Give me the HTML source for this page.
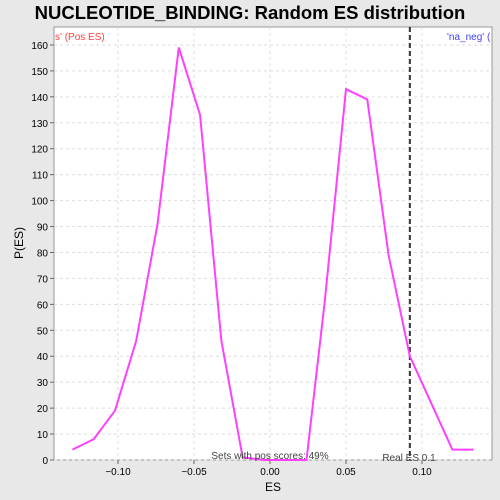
<!DOCTYPE html>
<html><head><meta charset="utf-8"><style>
body{margin:0;background:#e8e8e8;width:500px;height:500px;overflow:hidden;font-family:"Liberation Sans","DejaVu Sans",sans-serif}
svg{display:block}
</style></head><body>
<svg id="c" width="500" height="500" font-family="Liberation Sans, DejaVu Sans, sans-serif">
<text x="250" y="19" text-anchor="middle" font-size="18.5" font-weight="bold">NUCLEOTIDE_BINDING: Random ES distribution</text>
<rect x="54" y="27" width="438" height="433" fill="#fff" stroke="#999"/>
<g id="grid"></g><g id="axes"></g>
<text x="55" y="40" font-size="10" fill="#ff4040">s' (Pos ES)</text>
<text x="447" y="40" font-size="10" fill="#4040ff">'na_neg' (</text>
<line id="real" y1="27" y2="460" stroke="#333" stroke-width="2" stroke-dasharray="5,3"/>
<path id="line" fill="none" stroke="#ff40ff" stroke-width="2"/>
<text x="270" y="459" text-anchor="middle" font-size="10" fill="#444">Sets with pos scores: 49%</text>
<text x="409" y="461" text-anchor="middle" font-size="10" fill="#444">Real ES 0.1</text>
<text x="273" y="491" text-anchor="middle" font-size="12">ES</text>
<text x="23" y="243" text-anchor="middle" font-size="12" transform="rotate(-90 23 243)">P(ES)</text>
</svg>
<script>
const esValues=[-0.13,-0.116,-0.102,-0.088,-0.074,-0.06,-0.046,-0.032,-0.018,-0.004,0.01,0.024,0.036,0.05,0.064,0.078,0.092,0.106,0.12,0.134];
const pValues=[4,8,19,46,91,159,133,46,1,0,0,0,61,143,139,79,40,22,4,4];
const xTicks=[-0.10,-0.05,0.00,0.05,0.10];
const xTickLabels=["−0.10","−0.05","0.00","0.05","0.10"];
const yTicks=[0,10,20,30,40,50,60,70,80,90,100,110,120,130,140,150,160];
const realES=0.092;
const X=v=>270+v*1520, Y=v=>460-v*2.594;
const ns='http://www.w3.org/2000/svg';
const grid=document.getElementById('grid'),axes=document.getElementById('axes');
function mk(tag,attrs,parent){const e=document.createElementNS(ns,tag);for(const k in attrs)e.setAttribute(k,attrs[k]);parent.appendChild(e);return e;}
xTicks.forEach((t,i)=>{
 const g=mk('line',{x1:X(t),x2:X(t),y1:27,y2:460,stroke:'#ddd','stroke-dasharray':'3,3'},grid);
 
 
 const tk=mk('line',{x1:X(t),x2:X(t),y1:460,y2:464,stroke:'#666'},axes);
 
 
 const tx=mk('text',{x:X(t),y:475,'text-anchor':'middle','font-size':10},axes);
 tx.textContent=xTickLabels[i];
 
 
});
yTicks.forEach(t=>{
 const g=mk('line',{x1:54,x2:492,y1:Y(t),y2:Y(t),stroke:'#ddd','stroke-dasharray':'3,3'},grid);
 
 
 const tk=mk('line',{x1:50,x2:54,y1:Y(t),y2:Y(t),stroke:'#666'},axes);
 
 
 const tx=mk('text',{x:48,y:Y(t)+4,'text-anchor':'end','font-size':10},axes);
 tx.textContent=t;
 
 
});
document.getElementById('line').setAttribute('d',esValues.map((v,i)=>(i?'L':'M')+X(v)+','+Y(pValues[i])).join(''));
const r=document.getElementById('real');r.setAttribute('x1',X(realES));r.setAttribute('x2',X(realES));
</script>
</body></html>
